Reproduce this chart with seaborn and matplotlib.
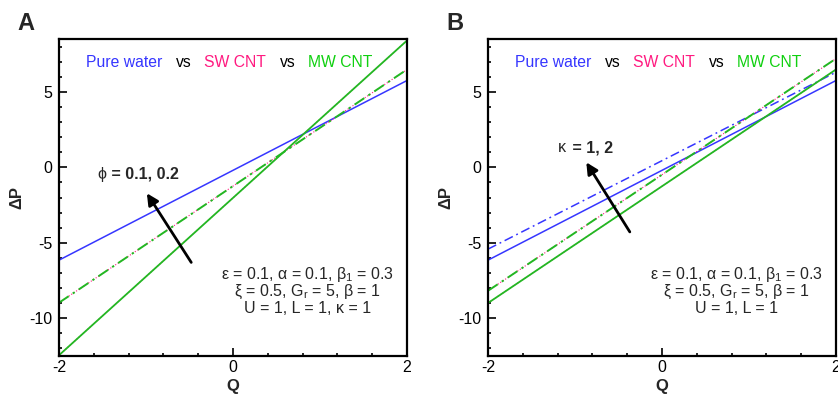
import numpy as np
import pandas as pd
import seaborn as sns
import matplotlib
matplotlib.use("Agg")
from matplotlib import pyplot as plt
from matplotlib.ticker import MultipleLocator

# values (Q at the two ends of the axis)
Q = [-2, 2]

# panel A : phi = 0.1 (solid), phi = 0.2 (dash-dot)
a_water = [-6.15, 5.75]
a_sw_01 = [-12.45, 8.4]
a_sw_02 = [-8.97, 6.48]
a_mw_01 = [-12.45, 8.4]
a_mw_02 = [-8.97, 6.48]

# panel B : kappa = 1 (solid), kappa = 2 (dash-dot)
b_water_1 = [-6.15, 5.75]
b_water_2 = [-5.42, 6.3]
b_sw_1 = [-8.99, 6.48]
b_sw_2 = [-8.18, 7.2]
b_mw_1 = [-8.99, 6.48]
b_mw_2 = [-8.18, 7.2]

BLUE = '#3636ff'
PINK = '#ff1a80'
GREEN = '#22b822'
GREEN_TXT = '#10d010'

sns.set_style("ticks")
plt.rcParams['font.family'] = ['Liberation Sans', 'DejaVu Sans']
plt.rcParams['mathtext.fontset'] = 'custom'
plt.rcParams['mathtext.rm'] = 'Liberation Sans'
plt.rcParams['mathtext.it'] = 'Liberation Sans'
plt.rcParams['axes.unicode_minus'] = False

fig = plt.figure(figsize=(8.38, 3.96), dpi=100)
axA = fig.add_axes([59/838, 40/396, 348/838, 317/396])
axB = fig.add_axes([488/838, 40/396, 348/838, 317/396])

DASHDOT = [6, 2.5, 1.2, 2.5]


def draw(ax, y, color, dashed, lw=1.1, dots=False):
    sns.lineplot(x=Q, y=y, ax=ax, color=color, lw=lw)
    line = ax.lines[-1]
    if dots:
        line.set_linestyle(':')
    elif dashed:
        line.set_dashes(DASHDOT)


def style(ax, params, tag):
    ax.set_xlim(-2, 2)
    ax.set_ylim(-12.5, 8.5)
    ax.xaxis.set_major_locator(MultipleLocator(2))
    ax.xaxis.set_minor_locator(MultipleLocator(0.4))
    ax.yaxis.set_major_locator(MultipleLocator(5))
    ax.yaxis.set_minor_locator(MultipleLocator(1))
    ax.tick_params(which='both', direction='in', top=False, right=False,
                   labelsize=11.5, width=1.2, color='k', labelcolor='k')
    ax.tick_params(which='major', length=5.5)
    ax.tick_params(which='minor', length=2.5)
    ax.tick_params(axis='x', pad=3)
    ax.tick_params(axis='y', pad=5)
    for s in ax.spines.values():
        s.set_linewidth(1.6)
        s.set_color('k')
    ax.set_xlabel('Q', fontsize=12, fontweight='bold', labelpad=2.5)
    ax.set_ylabel('ΔP', fontsize=12, fontweight='bold', labelpad=3)
    # colored "legend" line
    y0 = 0.927
    for x, txt, c in [(0.078, 'Pure water', BLUE), (0.336, 'vs', 'k'),
                      (0.417, 'SW CNT', PINK), (0.636, 'vs', 'k'),
                      (0.716, 'MW CNT', GREEN_TXT)]:
        ax.text(x, y0, txt, color=c, fontsize=11.3, transform=ax.transAxes,
                ha='left', va='center')
    ax.text(0.86, -8.15, params, fontsize=11.5, ha='center', va='center',
            linespacing=0.98)
    fig.text(ax.get_position().x0 - 42/838, 0.94, tag, fontsize=17,
             fontweight='bold', ha='left', va='center')


# panel A
draw(axA, a_water, BLUE, False)
draw(axA, a_sw_01, PINK, False, lw=0.8, dots=True)
draw(axA, a_sw_02, PINK, False, lw=0.8, dots=True)
draw(axA, a_mw_01, GREEN, False, lw=1.3)
draw(axA, a_mw_02, GREEN, True, lw=1.4)
style(axA, 'ε = 0.1, α = 0.1, β$_1$ = 0.3\nξ = 0.5, G$_r$ = 5, β = 1\nU = 1, L = 1, κ = 1', 'A')
axA.annotate('', xy=(-0.99, -1.72), xytext=(-0.48, -6.3),
             arrowprops=dict(arrowstyle='-|>', color='k', lw=2,
                             mutation_scale=17, shrinkA=0, shrinkB=0))
axA.text(-1.56, -0.46, 'ϕ', fontsize=11.5, ha='left', va='center')
axA.text(-1.45, -0.46, ' = 0.1, 0.2', fontsize=11.5, fontweight='bold',
         ha='left', va='center')

# panel B
draw(axB, b_water_1, BLUE, False)
draw(axB, b_water_2, BLUE, True)
draw(axB, b_sw_1, PINK, False, lw=0.8, dots=True)
draw(axB, b_sw_2, PINK, False, lw=0.8, dots=True)
draw(axB, b_mw_1, GREEN, False, lw=1.3)
draw(axB, b_mw_2, GREEN, True, lw=1.4)
style(axB, 'ε = 0.1, α = 0.1, β$_1$ = 0.3\nξ = 0.5, G$_r$ = 5, β = 1\nU = 1, L = 1', 'B')
axB.annotate('', xy=(-0.87, 0.33), xytext=(-0.37, -4.28),
             arrowprops=dict(arrowstyle='-|>', color='k', lw=2,
                             mutation_scale=17, shrinkA=0, shrinkB=0))
axB.text(-1.2, 1.3, 'κ', fontsize=11.5, ha='left', va='center')
axB.text(-1.08, 1.3, ' = 1, 2', fontsize=11.5, fontweight='bold',
         ha='left', va='center')

plt.savefig('out.png', dpi=100)
